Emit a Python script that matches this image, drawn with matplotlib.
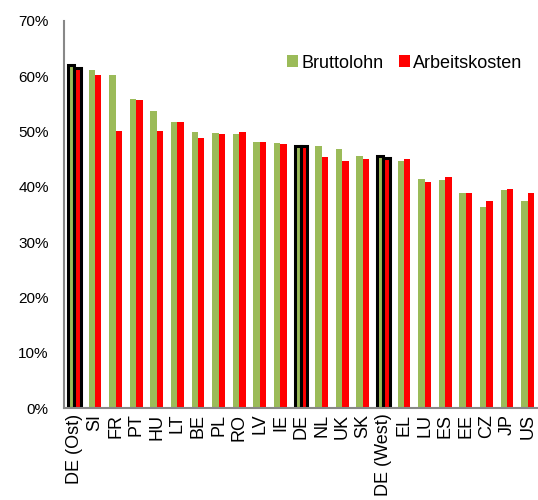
import matplotlib
matplotlib.use("Agg")
from matplotlib import pyplot as plt
from matplotlib.ticker import PercentFormatter
from matplotlib.patches import Patch
import numpy as np

plt.rcParams['font.family'] = ['Liberation Sans', 'DejaVu Sans']

# data
countries = ['DE (Ost)', 'SI', 'FR', 'PT', 'HU', 'LT', 'BE', 'PL', 'RO', 'LV', 'IE', 'DE',
             'NL', 'UK', 'SK', 'DE (West)', 'EL', 'LU', 'ES', 'EE', 'CZ', 'JP', 'US']
bruttolohn = [62.0, 61.1, 60.2, 55.9, 53.8, 51.8, 50.0, 49.7, 49.6, 48.2, 48.0, 47.4,
              47.4, 46.8, 45.5, 45.5, 44.7, 41.4, 41.2, 38.9, 36.4, 39.4, 37.5]
arbeitskosten = [61.5, 60.2, 50.1, 55.7, 50.1, 51.8, 48.8, 49.5, 50.0, 48.2, 47.7, 47.4,
                 45.4, 44.7, 45.0, 45.2, 45.0, 40.8, 41.7, 38.9, 37.5, 39.6, 38.9]
highlight = ['DE (Ost)', 'DE', 'DE (West)']

green = '#9BBB59'
red = '#FF0000'

fig = plt.figure(figsize=(5.38, 5.0), dpi=100)
ax = fig.add_axes([0.119, 0.184, 0.881, 0.774])

x = np.arange(len(countries))
w = 0.31
edges = ['black' if c in highlight else 'none' for c in countries]
lws = [2.2 if c in highlight else 0 for c in countries]

ax.bar(x - w/2, bruttolohn, w, color=green, edgecolor=edges, linewidth=lws)
ax.bar(x + w/2, arbeitskosten, w, color=red, edgecolor=edges, linewidth=lws)

ax.set_xlim(-0.5, len(countries) - 0.5)
ax.set_ylim(0, 70)
ax.set_yticks(range(0, 71, 10))
ax.yaxis.set_major_formatter(PercentFormatter(decimals=0))
ax.set_xticks(x)
ax.set_xticklabels(countries, rotation=90, fontsize=13)
ax.tick_params(axis='y', labelsize=11, length=0, pad=11)
ax.tick_params(axis='x', length=0, pad=4)

for side in ['top', 'right']:
    ax.spines[side].set_visible(False)
for side in ['left', 'bottom']:
    ax.spines[side].set_color('#888888')
    ax.spines[side].set_linewidth(1.5)

handles = [Patch(facecolor=green, edgecolor='none', label='Bruttolohn'),
           Patch(facecolor=red, edgecolor='none', label='Arbeitskosten')]
fig.legend(handles=handles, loc='center left', bbox_to_anchor=(0.533, 0.874), ncol=2,
           frameon=False, fontsize=13, handlelength=0.6, handleheight=0.6,
           handletextpad=0.2, columnspacing=0.85, borderpad=0, borderaxespad=0)

fig.savefig('out.png', dpi=100)
